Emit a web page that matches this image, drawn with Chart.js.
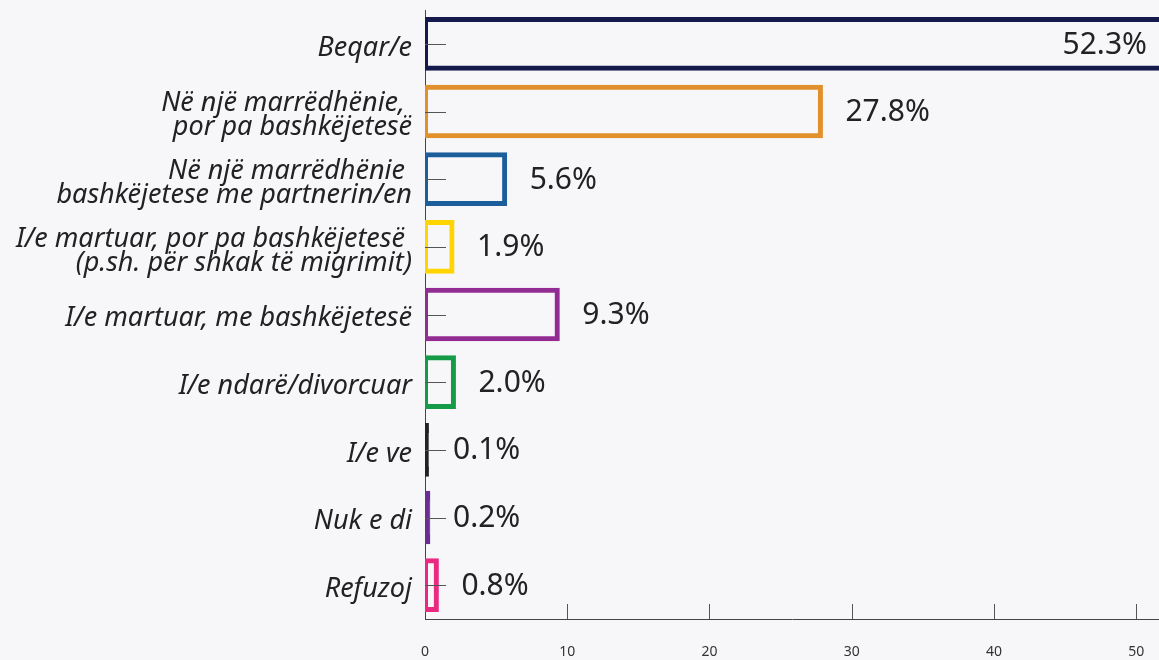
<!DOCTYPE html>
<html>
<head>
<meta charset="utf-8">
<script src="https://cdn.jsdelivr.net/npm/chart.js@4"></script>
<style>
  html, body { margin: 0; padding: 0; background: #f7f7fa; }
  #wrap { width: 1159px; height: 660px; position: relative; }
</style>
</head>
<body>
<div id="wrap"><canvas id="chart"></canvas></div>
<script>
// categories (multi-line labels as arrays)
const categories = [
  ['Beqar/e'],
  ['Në një marrëdhënie, ', 'por pa bashkëjetesë'],
  ['Në një marrëdhënie ', 'bashkëjetese me partnerin/en'],
  ['I/e martuar, por pa bashkëjetesë ', '(p.sh. për shkak të migrimit)'],
  ['I/e martuar, me bashkëjetesë'],
  ['I/e ndarë/divorcuar'],
  ['I/e ve'],
  ['Nuk e di'],
  ['Refuzoj']
];
const values = [52.3, 27.8, 5.6, 1.9, 9.3, 2.0, 0.1, 0.2, 0.8];
const barColors = ['#141a4b', '#e1902b', '#1c5e9b', '#ffd400', '#922c93', '#159a48', '#222222', '#6a2d92', '#ea2a80'];
const xTicks = [0, 10, 20, 30, 40, 50];

const BG = '#f7f7fa';
const BORDER = 5;

// ticks pointing into the plot + value labels
const innerTicks = {
  id: 'innerTicks',
  afterDatasetsDraw(chart) {
    const { ctx, chartArea, scales: { x, y } } = chart;
    ctx.save();
    ctx.strokeStyle = '#555';
    ctx.lineWidth = 1;
    ctx.beginPath();
    y.ticks.forEach((t, i) => {
      const py = Math.round(y.getPixelForTick(i)) + 0.5;
      ctx.moveTo(chartArea.left, py);
      ctx.lineTo(chartArea.left + 21, py);
    });
    x.ticks.forEach((t, i) => {
      if (i === 0) return;
      const px = Math.round(x.getPixelForTick(i)) + 0.5;
      ctx.moveTo(px, chartArea.bottom);
      ctx.lineTo(px, chartArea.bottom - 15);
    });
    ctx.stroke();

    // value labels
    ctx.font = '30px "Noto Sans"';
    ctx.fillStyle = '#222';
    ctx.textBaseline = 'middle';
    const meta = chart.getDatasetMeta(0);
    meta.data.forEach((bar, i) => {
      const txt = values[i].toFixed(1) + '%';
      const w = ctx.measureText(txt).width;
      const tx = Math.max(bar.x + 25, chartArea.left + 28);
      if (tx + w > chartArea.right) {
        ctx.textAlign = 'right';
        ctx.fillText(txt, chartArea.right - 12, bar.y + 2);
      } else {
        ctx.textAlign = 'left';
        ctx.fillText(txt, tx, bar.y + 1);
      }
    });
    ctx.restore();
  }
};

new Chart(document.getElementById('chart'), {
  type: 'bar',
  data: {
    labels: categories,
    datasets: [{
      data: values,
      borderColor: barColors,
      backgroundColor: (c) => {
        const sx = c.chart.scales.x;
        if (!sx) return BG;
        const w = sx.getPixelForValue(values[c.dataIndex]) - sx.getPixelForValue(0);
        return w < BORDER * 1.5 ? barColors[c.dataIndex] : BG;
      },
      borderWidth: BORDER,
      borderSkipped: false,
      inflateAmount: BORDER / 2,
      barPercentage: 0.72,
      categoryPercentage: 1
    }]
  },
  options: {
    indexAxis: 'y',
    responsive: true,
    maintainAspectRatio: false,
    animation: false,
    layout: { padding: { top: 10, right: 0, left: 0, bottom: 0 } },
    plugins: {
      legend: { display: false },
      tooltip: { enabled: false }
    },
    scales: {
      x: {
        min: 0,
        max: 51.6,
        afterBuildTicks: (s) => { s.ticks = xTicks.map(v => ({ value: v })); },
        afterFit: (s) => { s.height = 41; s.paddingLeft = 0; s.paddingRight = 0; },
        grid: { display: true, drawOnChartArea: false, drawTicks: false },
        border: { display: true, color: '#444', width: 1 },
        ticks: {
          padding: 25,
          color: '#333',
          font: { family: 'Noto Sans', size: 14 },
          maxRotation: 0
        }
      },
      y: {
        afterFit: (s) => { s.width = 425; s.paddingTop = 0; s.paddingBottom = 0; },
        grid: { display: true, drawOnChartArea: false, drawTicks: false },
        border: { display: true, color: '#444', width: 1 },
        ticks: {
          padding: 13,
          labelOffset: 4,
          color: '#222',
          font: { family: 'Noto Sans', size: 27, style: 'italic', lineHeight: 0.89 }
        }
      }
    }
  },
  plugins: [innerTicks]
});
</script>
</body>
</html>
